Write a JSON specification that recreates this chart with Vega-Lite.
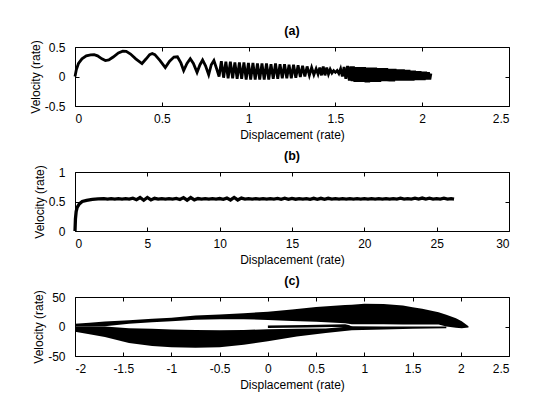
{
  "$schema": "https://vega.github.io/schema/vega-lite/v6.json",
  "background": "white",
  "padding": {"left": 28, "top": 24, "right": 5, "bottom": 5},
  "spacing": 8,
  "config": {
    "font": "Liberation Sans",
    "view": {"stroke": "black", "strokeWidth": 1},
    "axis": {
      "grid": false, "domain": false, "tickColor": "black", "tickSize": -4,
      "labelColor": "black", "labelFontSize": 12, "labelFont": "Liberation Sans",
      "titleColor": "black", "titleFontSize": 12, "titleFontWeight": "normal", "titleFont": "Liberation Sans",
      "labelExpr": "replace(datum.label, '\u2212', '-')"
    },
    "axisX": {"labelPadding": 11, "titlePadding": 5},
    "axisY": {"labelPadding": 14, "titlePadding": 2},
    "title": {"fontSize": 12.5, "fontWeight": "bold", "color": "black", "offset": 2, "anchor": "middle", "frame": "group"}
  },
  "datasets": {
    "a": [
      {"x":0,"y":0},{"x":0.008,"y":0.12},{"x":0.02,"y":0.22},{"x":0.04,"y":0.3},{"x":0.065,"y":0.35},{"x":0.09,"y":0.368},{"x":0.11,"y":0.37},{"x":0.13,"y":0.35},{"x":0.155,"y":0.3},{"x":0.175,"y":0.27},{"x":0.195,"y":0.28},{"x":0.22,"y":0.33},{"x":0.25,"y":0.4},{"x":0.275,"y":0.43},{"x":0.295,"y":0.425},{"x":0.32,"y":0.38},{"x":0.35,"y":0.3},{"x":0.386,"y":0.22},{"x":0.41,"y":0.3},{"x":0.43,"y":0.37},{"x":0.445,"y":0.39},{"x":0.46,"y":0.37},{"x":0.49,"y":0.27},{"x":0.52,"y":0.15},{"x":0.545,"y":0.26},{"x":0.57,"y":0.33},{"x":0.59,"y":0.335},{"x":0.61,"y":0.23},{"x":0.626,"y":0.1},{"x":0.645,"y":0.22},{"x":0.664,"y":0.3},{"x":0.682,"y":0.22},{"x":0.703,"y":0.07},{"x":0.72,"y":0.2},{"x":0.735,"y":0.28},{"x":0.752,"y":0.18},{"x":0.77,"y":0.03},{"x":0.785,"y":0.2},{"x":0.8,"y":0.27},{"x":0.815,"y":0.14},{"x":0.83,"y":0.0},
      {"x":0.843,"y":0.26},{"x":0.856,"y":-0.02},{"x":0.869,"y":0.25},{"x":0.882,"y":-0.03},{"x":0.895,"y":0.25},{"x":0.908,"y":-0.03},{"x":0.921,"y":0.24},{"x":0.934,"y":-0.04},{"x":0.947,"y":0.24},{"x":0.96,"y":-0.04},{"x":0.973,"y":0.24},{"x":0.986,"y":-0.05},{"x":0.999,"y":0.23},{"x":1.012,"y":-0.05},{"x":1.025,"y":0.23},{"x":1.038,"y":-0.05},{"x":1.051,"y":0.22},{"x":1.064,"y":-0.05},{"x":1.077,"y":0.22},{"x":1.09,"y":-0.05},{"x":1.103,"y":0.22},{"x":1.116,"y":-0.05},{"x":1.129,"y":0.21},{"x":1.142,"y":-0.04},{"x":1.155,"y":0.22},{"x":1.168,"y":-0.04},{"x":1.181,"y":0.21},{"x":1.194,"y":-0.03},{"x":1.207,"y":0.21},{"x":1.22,"y":-0.03},{"x":1.233,"y":0.2},{"x":1.246,"y":-0.03},{"x":1.259,"y":0.2},{"x":1.272,"y":-0.02},{"x":1.285,"y":0.19},{"x":1.298,"y":-0.01},{"x":1.311,"y":0.18},{"x":1.324,"y":0.0},{"x":1.337,"y":0.17},{"x":1.35,"y":0.02},{"x":1.363,"y":0.15},{"x":1.376,"y":0.03},{"x":1.389,"y":0.13},{"x":1.4,"y":0.04},{"x":1.41,"y":0.15},{"x":1.42,"y":0.02},{"x":1.43,"y":0.17},{"x":1.44,"y":0.02},{"x":1.45,"y":0.15},{"x":1.46,"y":0.04},{"x":1.47,"y":0.12},{"x":1.48,"y":0.06},{"x":1.49,"y":0.1},{"x":1.5,"y":0.07},{"x":1.51,"y":0.1},{"x":1.52,"y":0.05},{"x":1.53,"y":0.13},{"x":1.54,"y":0.0},{"x":1.55,"y":0.16},{"x":1.56,"y":-0.04},{"x":1.57,"y":0.18},{"x":1.58,"y":-0.07},
      {"x":1.588,"y":0.17},{"x":1.596,"y":-0.08},{"x":1.604,"y":0.17},{"x":1.612,"y":-0.09},{"x":1.62,"y":0.16},{"x":1.628,"y":-0.09},{"x":1.636,"y":0.16},{"x":1.644,"y":-0.09},{"x":1.652,"y":0.16},{"x":1.66,"y":-0.09},{"x":1.668,"y":0.16},{"x":1.676,"y":-0.1},{"x":1.684,"y":0.15},{"x":1.692,"y":-0.1},{"x":1.7,"y":0.15},{"x":1.708,"y":-0.09},{"x":1.716,"y":0.15},{"x":1.724,"y":-0.09},{"x":1.732,"y":0.15},{"x":1.74,"y":-0.09},{"x":1.748,"y":0.14},{"x":1.756,"y":-0.09},{"x":1.764,"y":0.14},{"x":1.772,"y":-0.08},{"x":1.78,"y":0.14},{"x":1.788,"y":-0.08},{"x":1.796,"y":0.14},{"x":1.804,"y":-0.08},{"x":1.812,"y":0.13},{"x":1.82,"y":-0.08},{"x":1.828,"y":0.13},{"x":1.836,"y":-0.08},{"x":1.844,"y":0.13},{"x":1.852,"y":-0.07},{"x":1.86,"y":0.12},{"x":1.868,"y":-0.07},{"x":1.876,"y":0.12},{"x":1.884,"y":-0.07},{"x":1.892,"y":0.12},{"x":1.9,"y":-0.07},{"x":1.908,"y":0.11},{"x":1.916,"y":-0.07},{"x":1.924,"y":0.11},{"x":1.932,"y":-0.07},{"x":1.94,"y":0.1},{"x":1.948,"y":-0.07},{"x":1.956,"y":0.1},{"x":1.964,"y":-0.06},{"x":1.972,"y":0.09},{"x":1.98,"y":-0.06},{"x":1.988,"y":0.09},{"x":1.996,"y":-0.06},{"x":2.004,"y":0.08},{"x":2.012,"y":-0.06},{"x":2.02,"y":0.08},{"x":2.028,"y":-0.05},{"x":2.036,"y":0.07},{"x":2.044,"y":-0.05},{"x":2.05,"y":0.05}
    ],
    "b": [
      {"x":0,"y":0},{"x":0.03,"y":0.2},{"x":0.08,"y":0.33},{"x":0.15,"y":0.4},{"x":0.3,"y":0.46},{"x":0.5,"y":0.5},{"x":0.8,"y":0.52},{"x":1.2,"y":0.535},{"x":1.6,"y":0.543},
      {"x":2.0,"y":0.549},{"x":2.25,"y":0.541},{"x":2.5,"y":0.55},{"x":2.75,"y":0.54},{"x":3.0,"y":0.549},{"x":3.25,"y":0.541},{"x":3.5,"y":0.549},{"x":3.75,"y":0.54},{"x":4.0,"y":0.556},{"x":4.25,"y":0.53},{"x":4.5,"y":0.568},{"x":4.75,"y":0.522},{"x":5.0,"y":0.568},{"x":5.25,"y":0.526},{"x":5.5,"y":0.554},{"x":5.75,"y":0.54},{"x":6.0,"y":0.549},{"x":6.25,"y":0.541},{"x":6.5,"y":0.549},{"x":6.75,"y":0.541},{"x":7.0,"y":0.551},{"x":7.25,"y":0.533},{"x":7.5,"y":0.566},{"x":7.75,"y":0.522},{"x":8.0,"y":0.566},{"x":8.25,"y":0.528},{"x":8.5,"y":0.55},{"x":8.75,"y":0.541},{"x":9.0,"y":0.549},{"x":9.25,"y":0.541},{"x":9.5,"y":0.549},{"x":9.75,"y":0.541},{"x":10.0,"y":0.55},{"x":10.25,"y":0.537},{"x":10.5,"y":0.558},{"x":10.75,"y":0.526},{"x":11.0,"y":0.568},{"x":11.25,"y":0.526},{"x":11.5,"y":0.558},{"x":11.75,"y":0.54},{"x":12.0,"y":0.548},{"x":12.25,"y":0.542},{"x":12.5,"y":0.548},{"x":12.75,"y":0.542},{"x":13.0,"y":0.549},{"x":13.25,"y":0.541},{"x":13.5,"y":0.549},{"x":13.75,"y":0.541},{"x":14.0,"y":0.552},{"x":14.25,"y":0.536},{"x":14.5,"y":0.556},{"x":14.75,"y":0.536},{"x":15.0,"y":0.553},{"x":15.25,"y":0.539},{"x":15.5,"y":0.549},{"x":15.75,"y":0.541},{"x":16.0,"y":0.549},{"x":16.25,"y":0.536},{"x":16.5,"y":0.554},{"x":16.75,"y":0.536},{"x":17.0,"y":0.554},{"x":17.25,"y":0.536},{"x":17.5,"y":0.554},{"x":17.75,"y":0.541},{"x":18.0,"y":0.548},{"x":18.25,"y":0.542},{"x":18.5,"y":0.548},{"x":18.75,"y":0.542},{"x":19.0,"y":0.549},{"x":19.25,"y":0.542},{"x":19.5,"y":0.548},{"x":19.75,"y":0.542},{"x":20.0,"y":0.549},{"x":20.25,"y":0.541},{"x":20.5,"y":0.549},{"x":20.75,"y":0.542},{"x":21.0,"y":0.548},{"x":21.25,"y":0.542},{"x":21.5,"y":0.549},{"x":21.75,"y":0.541},{"x":22.0,"y":0.549},{"x":22.25,"y":0.542},{"x":22.5,"y":0.555},{"x":22.75,"y":0.54},{"x":23.0,"y":0.549},{"x":23.25,"y":0.542},{"x":23.5,"y":0.555},{"x":23.75,"y":0.54},{"x":24.0,"y":0.558},{"x":24.25,"y":0.54},{"x":24.5,"y":0.555},{"x":24.75,"y":0.542},{"x":25.0,"y":0.549},{"x":25.25,"y":0.542},{"x":25.5,"y":0.555},{"x":25.75,"y":0.54},{"x":26.0,"y":0.548},{"x":26.2,"y":0.54}
    ],
    "c_band": [
      {"band":"U","x":-2.0,"top":4.5,"bot":0},{"band":"U","x":-1.85,"top":6.5,"bot":0},{"band":"U","x":-1.69,"top":8.5,"bot":0.5},{"band":"U","x":-1.44,"top":10.5,"bot":4.5},{"band":"U","x":-1.2,"top":13,"bot":7},{"band":"U","x":-1.0,"top":15,"bot":9},{"band":"U","x":-0.75,"top":18.5,"bot":11.5},{"band":"U","x":-0.5,"top":20.5,"bot":12.5},{"band":"U","x":-0.25,"top":22.5,"bot":12.5},{"band":"U","x":0.0,"top":25,"bot":11},{"band":"U","x":0.25,"top":29,"bot":9.5},{"band":"U","x":0.5,"top":33,"bot":8},{"band":"U","x":0.8,"top":36.5,"bot":5.5},{"band":"U","x":0.87,"top":37,"bot":4},{"band":"U","x":1.0,"top":38.5,"bot":3.8},{"band":"U","x":1.2,"top":38,"bot":3.7},{"band":"U","x":1.4,"top":35.5,"bot":3.6},{"band":"U","x":1.5,"top":32.5,"bot":3.5},{"band":"U","x":1.6,"top":30,"bot":3.5},{"band":"U","x":1.77,"top":24,"bot":3.5},{"band":"U","x":1.85,"top":20,"bot":0},{"band":"U","x":1.95,"top":14,"bot":-2},{"band":"U","x":2.01,"top":9,"bot":-3},{"band":"U","x":2.08,"top":0.5,"bot":-1.5},
      {"band":"L","x":-2.0,"top":0,"bot":-9},{"band":"L","x":-1.85,"top":0,"bot":-13},{"band":"L","x":-1.69,"top":0,"bot":-18},{"band":"L","x":-1.44,"top":-3,"bot":-28},{"band":"L","x":-1.2,"top":-4,"bot":-33},{"band":"L","x":-1.0,"top":-5,"bot":-35},{"band":"L","x":-0.75,"top":-6,"bot":-36},{"band":"L","x":-0.5,"top":-6.5,"bot":-35},{"band":"L","x":-0.25,"top":-6,"bot":-31},{"band":"L","x":0.0,"top":-4.5,"bot":-25},{"band":"L","x":0.3,"top":-4,"bot":-17},{"band":"L","x":0.6,"top":-3.5,"bot":-11},{"band":"L","x":0.87,"top":0.3,"bot":-6.3},{"band":"L","x":1.2,"top":0.2,"bot":-5},{"band":"L","x":1.5,"top":0.1,"bot":-4},{"band":"L","x":1.85,"top":0,"bot":-3}
    ],
    "c_line": [
      {"x":0.0,"y":-0.5},{"x":0.4,"y":0.5},{"x":0.8,"y":1.5},{"x":0.84,"y":0},{"x":0.88,"y":-3}
    ]
  },
  "vconcat": [
    {
      "width": 434, "height": 59,
      "title": "(a)",
      "data": {"name": "a"},
      "resolve": {"axis": {"x": "independent", "y": "independent"}},
      "layer": [
        {
          "mark": {"type": "line", "color": "black", "strokeWidth": 2.8},
          "encoding": {
            "x": {"field": "x", "type": "quantitative", "scale": {"domain": [0, 2.5], "nice": false, "zero": false},
                  "axis": {"values": [0, 0.5, 1, 1.5, 2, 2.5], "format": "~g", "title": "Displacement (rate)"}},
            "y": {"field": "y", "type": "quantitative", "scale": {"domain": [-0.5, 0.5], "nice": false, "zero": false},
                  "axis": {"values": [-0.5, 0, 0.5], "format": "~g", "title": "Velocity (rate)"}},
            "order": {"value": null}
          }
        },
        {
          "mark": {"type": "point", "opacity": 0},
          "encoding": {
            "x": {"field": "x", "type": "quantitative", "axis": {"orient": "top", "labels": false, "title": null, "values": [0, 0.5, 1, 1.5, 2, 2.5]}},
            "y": {"field": "y", "type": "quantitative", "axis": {"orient": "right", "labels": false, "title": null, "values": [-0.5, 0, 0.5]}}
          }
        }
      ]
    },
    {
      "width": 434, "height": 59,
      "title": "(b)",
      "data": {"name": "b"},
      "resolve": {"axis": {"x": "independent", "y": "independent"}},
      "layer": [
        {
          "mark": {"type": "line", "color": "black", "strokeWidth": 3.3},
          "encoding": {
            "x": {"field": "x", "type": "quantitative", "scale": {"domain": [0, 30], "nice": false, "zero": false},
                  "axis": {"values": [0, 5, 10, 15, 20, 25, 30], "format": "~g", "title": "Displacement (rate)"}},
            "y": {"field": "y", "type": "quantitative", "scale": {"domain": [0, 1], "nice": false, "zero": false},
                  "axis": {"values": [0, 0.5, 1], "format": "~g", "title": "Velocity (rate)"}},
            "order": {"value": null}
          }
        },
        {
          "mark": {"type": "point", "opacity": 0},
          "encoding": {
            "x": {"field": "x", "type": "quantitative", "axis": {"orient": "top", "labels": false, "title": null, "values": [0, 5, 10, 15, 20, 25, 30]}},
            "y": {"field": "y", "type": "quantitative", "axis": {"orient": "right", "labels": false, "title": null, "values": [0, 0.5, 1]}}
          }
        }
      ]
    },
    {
      "width": 434, "height": 59,
      "title": "(c)",
      "resolve": {"axis": {"x": "independent", "y": "independent"}},
      "layer": [
        {
          "data": {"name": "c_band"},
          "mark": {"type": "area", "color": "black", "interpolate": "linear"},
          "encoding": {
            "x": {"field": "x", "type": "quantitative", "scale": {"domain": [-2, 2.5], "nice": false, "zero": false},
                  "axis": {"values": [-2, -1.5, -1, -0.5, 0, 0.5, 1, 1.5, 2, 2.5], "format": "~g", "title": "Displacement (rate)"}},
            "y": {"field": "top", "type": "quantitative", "stack": null, "scale": {"domain": [-50, 50], "nice": false, "zero": false},
                  "axis": {"values": [-50, 0, 50], "format": "~g", "title": "Velocity (rate)"}},
            "y2": {"field": "bot"},
            "detail": {"field": "band"}
          }
        },
        {
          "data": {"name": "c_line"},
          "mark": {"type": "line", "color": "black", "strokeWidth": 2.5},
          "encoding": {
            "x": {"field": "x", "type": "quantitative", "axis": {"orient": "top", "labels": false, "title": null, "values": [-2, -1.5, -1, -0.5, 0, 0.5, 1, 1.5, 2, 2.5]}},
            "y": {"field": "y", "type": "quantitative", "axis": {"orient": "right", "labels": false, "title": null, "values": [-50, 0, 50]}},
            "order": {"value": null}
          }
        }
      ]
    }
  ]
}
